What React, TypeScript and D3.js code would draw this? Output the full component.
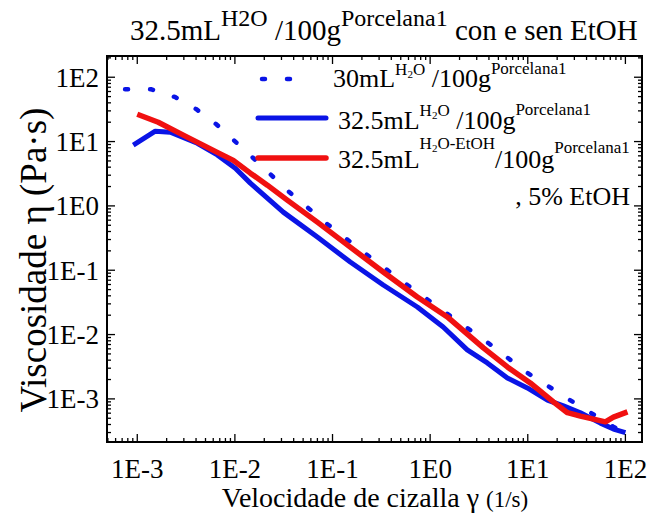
import * as d3 from "d3";

// 30 mL H2O / 100 g (dotted blue)
const rate30 = [0.00075, 0.00139, 0.00245, 0.00403, 0.00645, 0.0155, 0.036, 0.0886, 0.227, 0.584, 1.5, 3.94, 9.9, 26.7, 75, 98];
const visc30 = [65, 65, 49, 31.8, 18.6, 5.5, 1.64, 0.52, 0.172, 0.059, 0.021, 0.0074, 0.00254, 0.00097, 0.00037, 0.000295];

// 32.5 mL H2O / 100 g (solid blue)
const rate325 = [0.00091, 0.00153, 0.00218, 0.00412, 0.0066, 0.0101, 0.0144, 0.0313, 0.0699, 0.152, 0.331, 0.739, 1.36, 2.4, 3.85, 6.18, 9.9, 15.9, 23.2, 34.6, 55.5, 75.4, 100];
const visc325 = [8.8, 14.5, 14, 9.4, 6.2, 3.86, 2.26, 0.8, 0.328, 0.134, 0.0589, 0.0268, 0.0131, 0.00577, 0.00362, 0.00212, 0.00148, 0.00096, 0.00078, 0.00061, 0.00042, 0.00034, 0.0003];

// 32.5 mL H2O-EtOH / 100 g, 5% EtOH (red)
const rateEtOH = [0.001, 0.00164, 0.00296, 0.0066, 0.00964, 0.0144, 0.0215, 0.0344, 0.0699, 0.152, 0.331, 0.739, 1.5, 3.51, 6.18, 10.6, 18.3, 25.5, 34.6, 62.4, 75.4, 105];
const viscEtOH = [26.6, 20, 12.6, 6.8, 5.1, 3.23, 2.1, 1.23, 0.56, 0.229, 0.0937, 0.0384, 0.0188, 0.0062, 0.00314, 0.00177, 0.0009, 0.00061, 0.00054, 0.00044, 0.00052, 0.00063];

const xTickLabels = ["1E-3", "1E-2", "1E-1", "1E0", "1E1", "1E2"];
const yTickLabels = ["1E-3", "1E-2", "1E-1", "1E0", "1E1", "1E2"];

const W = 649;
const H = 522;
const left = 107, right = 642, top = 56, bottom = 442;
const FONT = "Liberation Serif, DejaVu Serif, Times New Roman, serif";
const BLUE = "#0a14e6";
const RED = "#f01010";

export default function App() {
  const x = d3.scaleLog().domain([Math.pow(10, -3.31), Math.pow(10, 2.17)]).range([left, right]);
  const y = d3.scaleLog().domain([Math.pow(10, -3.67), Math.pow(10, 2.33)]).range([bottom, top]);

  const line = d3
    .line<[number, number]>()
    .x(d => x(d[0]))
    .y(d => y(d[1]));

  const zip = (a: number[], b: number[]) => a.map((v, i) => [v, b[i]] as [number, number]);

  const isMajor = (v: number) => Math.abs(Math.log10(v) - Math.round(Math.log10(v))) < 1e-6;
  const xt = x.ticks();
  const yt = y.ticks();

  return (
    <svg width={W} height={H} style={{ position: "absolute", left: 0, top: 0, background: "#fff", fontFamily: FONT }}>
      <defs>
        <clipPath id="plotClip">
          <rect x={left} y={top} width={right - left} height={bottom - top} />
        </clipPath>
      </defs>

      {/* title */}
      <text x={130} y={40} fontSize={29} fill="#000">
        32.5mL
        <tspan fontSize={24} dy={-14}>H2O</tspan>
        <tspan dy={14}> /100g</tspan>
        <tspan fontSize={24} dy={-14}>Porcelana1</tspan>
        <tspan dy={14}> con e sen EtOH</tspan>
      </text>

      {/* data */}
      <g fill="none" clipPath="url(#plotClip)">
        <path d={line(zip(rate30, visc30)) || ""} stroke={BLUE} strokeWidth={4.5} strokeDasharray="3 22" strokeLinecap="round" />
        <path d={line(zip(rate325, visc325)) || ""} stroke={BLUE} strokeWidth={5} strokeLinejoin="round" />
        <path d={line(zip(rateEtOH, viscEtOH)) || ""} stroke={RED} strokeWidth={5.5} strokeLinejoin="round" />
      </g>

      {/* frame */}
      <rect x={left} y={top} width={right - left} height={bottom - top} fill="none" stroke="#000" strokeWidth={2} />

      {/* ticks on all four sides, pointing inward */}
      <g stroke="#000" strokeWidth={1.3}>
        {xt.map((t, i) => {
          const len = isMajor(t) ? 8 : 4;
          const px = x(t);
          return (
            <g key={"x" + i}>
              <line x1={px} x2={px} y1={bottom} y2={bottom - len} />
              <line x1={px} x2={px} y1={top} y2={top + len} />
            </g>
          );
        })}
        {yt.map((t, i) => {
          const len = isMajor(t) ? 8 : 4;
          const py = y(t);
          return (
            <g key={"y" + i}>
              <line x1={left} x2={left + len} y1={py} y2={py} />
              <line x1={right} x2={right - len} y1={py} y2={py} />
            </g>
          );
        })}
      </g>

      {/* tick labels */}
      <g fontSize={27} fill="#000">
        {xTickLabels.map((lab, i) => (
          <text key={lab} x={x(Math.pow(10, i - 3))} y={478} textAnchor="middle">{lab}</text>
        ))}
        {yTickLabels.map((lab, i) => (
          <text key={"yl" + lab} x={99} y={y(Math.pow(10, i - 3))} dy="0.35em" textAnchor="end">{lab}</text>
        ))}
      </g>

      {/* axis titles */}
      <text x={375} y={507} fontSize={28} textAnchor="middle" fill="#000">
        Velocidade de cizalla γ <tspan fontSize={23}>(1/s)</tspan>
      </text>
      <text transform="translate(46,260) rotate(-90)" fontSize={37} textAnchor="middle" fill="#000">
        Viscosidade η (Pa·s)
      </text>

      {/* legend */}
      <g>
        <line x1={262} x2={312} y1={79} y2={79} stroke={BLUE} strokeWidth={4.5} strokeDasharray="3 22" strokeLinecap="round" />
        <text x={333} y={87} fontSize={26} fill="#000">
          30mL
          <tspan fontSize={17} dy={-12}>H</tspan>
          <tspan fontSize={11} dy={3}>2</tspan>
          <tspan fontSize={17} dy={-3}>O</tspan>
          <tspan dy={12}> /100g</tspan>
          <tspan fontSize={17} dy={-13}>Porcelana1</tspan>
        </text>

        <line x1={258} x2={326} y1={118} y2={118} stroke={BLUE} strokeWidth={5} strokeLinecap="round" />
        <text x={338} y={129} fontSize={26} fill="#000">
          32.5mL
          <tspan fontSize={17} dy={-13}>H</tspan>
          <tspan fontSize={11} dy={3}>2</tspan>
          <tspan fontSize={17} dy={-3}>O</tspan>
          <tspan dy={13}> /100g</tspan>
          <tspan fontSize={17} dy={-14}>Porcelana1</tspan>
        </text>

        <line x1={258} x2={326} y1={158} y2={158} stroke={RED} strokeWidth={5.5} strokeLinecap="round" />
        <text x={338} y={168} fontSize={26} fill="#000">
          32.5mL
          <tspan fontSize={17} dy={-19}>H</tspan>
          <tspan fontSize={11} dy={3}>2</tspan>
          <tspan fontSize={17} dy={-3}>O-EtOH</tspan>
          <tspan dy={19}>/100g</tspan>
          <tspan fontSize={17} dy={-15}>Porcelana1</tspan>
        </text>

        <text x={630} y={205} fontSize={26} textAnchor="end" fill="#000">, 5% EtOH</text>
      </g>
    </svg>
  );
}
